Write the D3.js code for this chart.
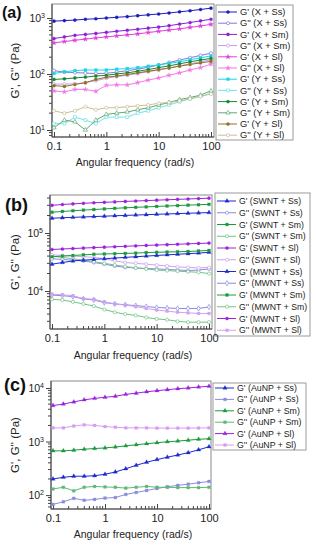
<!DOCTYPE html>
<html><head><meta charset="utf-8">
<script src="https://cdn.jsdelivr.net/npm/d3@7"></script>
<style>
body{margin:0;background:#fff;}
svg{display:block;font-family:"Liberation Sans",Arial,sans-serif;}
</style></head>
<body><svg id="c" width="316" height="550"></svg>
<script>
// ---------- data ----------
const freq = [0.1,0.158,0.251,0.398,0.631,1,1.58,2.51,3.98,6.31,10,15.8,25.1,39.8,63.1,100];
const xTicks = [0.1,1,10,100];
const xTickLabels = ["0.1","1","10","100"];

// panel (a)
const aLabels = ["G' (X + Ss)","G'' (X + Ss)","G' (X + Sm)","G'' (X + Sm)","G' (X + Sl)","G'' (X + Sl)","G' (Y + Ss)","G'' (Y + Ss)","G' (Y + Sm)","G'' (Y + Sm)","G' (Y + Sl)","G'' (Y + Sl)"];
const aGpXSs = [880,900,920,950,970,1000,1030,1060,1100,1140,1180,1230,1290,1350,1420,1500];
const aGppXSs = [115,108,106,104,102,103,108,115,122,132,145,160,178,195,215,235];
const aGpXSm = [430,460,490,510,530,555,580,605,630,660,690,730,780,830,890,950];
const aGppXSm = [66,66,67,70,76,84,90,95,102,110,118,128,140,152,165,180];
const aGpXSl = [360,380,400,420,440,460,480,500,520,550,580,610,640,680,720,770];
const aGppXSl = [50,48,53,53,49,63,64,64,70,78,85,95,105,118,130,150];
const aGpYSs = [102,110,115,118,118,118,122,125,130,138,145,155,165,180,195,210];
const aGppYSs = [13,13,17,15,13,17,17,17,20,22,25,28,32,36,40,45];
const aGpYSm = [80,82,85,88,92,95,100,105,112,120,130,140,152,165,178,190];
const aGppYSm = [11,15,14,10,15,19,20,21,23,25,28,31,35,38,42,50];
const aGpYSl = [62,60,65,70,80,88,92,98,105,112,120,128,138,148,158,168];
const aGppYSl = [22,20,22,26,23,25,25,26,27,28,30,31,33,36,40,44];
const aColors = ["#1c1cc0","#7c7cd8","#8a20d8","#c79ae8","#e040d8","#f27ae6","#18d6e6","#70e4ec","#18863a","#62a874","#8a7420","#cbbf98"];
const aSymbols = ["circle","ocircle","circle","ocircle","star","star","square","osquare","circle","otriangle","circle","ocircle"];
const aTicksY = [10,100,1000];

// panel (b)
const bLabels = ["G' (SWNT + Ss)","G'' (SWNT + Ss)","G' (SWNT + Sm)","G'' (SWNT + Sm)","G' (SWNT + Sl)","G'' (SWNT + Sl)","G' (MWNT + Ss)","G'' (MWNT + Ss)","G' (MWNT + Sm)","G'' (MWNT + Sm)","G' (MWNT + Sl)","G'' (MWNT + Sl)"];
const bGpSWSs = [180e3,183e3,186e3,189e3,192e3,195e3,198e3,201e3,204e3,207e3,210e3,213e3,216e3,219e3,222e3,225e3];
const bGppSWSs = [36e3,35e3,34e3,33e3,31e3,29e3,27e3,25.5e3,25e3,24.5e3,24e3,23.5e3,23e3,22.5e3,23e3,24e3];
const bGpSWSm = [228e3,235e3,242e3,248e3,254e3,260e3,266e3,272e3,277e3,282e3,287e3,292e3,297e3,302e3,307e3,312e3];
const bGppSWSm = [40e3,38e3,36e3,34e3,32e3,30e3,28e3,26.5e3,25e3,24e3,23e3,22.5e3,22e3,21.5e3,21e3,20e3];
const bGpSWSl = [300e3,310e3,318e3,325e3,332e3,338e3,344e3,350e3,356e3,362e3,368e3,374e3,380e3,386e3,392e3,398e3];
const bGppSWSl = [42e3,41e3,40e3,39e3,38e3,36e3,33e3,31e3,30e3,29e3,28e3,27e3,26e3,25.5e3,25e3,25.5e3];
const bGpMWSs = [29e3,31e3,33e3,34e3,35e3,36e3,37e3,38e3,39e3,40e3,41e3,42e3,43e3,44e3,45e3,46.5e3];
const bGppMWSs = [8.5e3,8.3e3,8e3,7.3e3,7e3,6.3e3,6e3,5.8e3,5.6e3,5.4e3,5.2e3,5.1e3,5e3,5e3,5e3,5.3e3];
const bGpMWSm = [39e3,40e3,41e3,42e3,43e3,43.5e3,44e3,44.5e3,45e3,46e3,46.5e3,47e3,47.5e3,48e3,49e3,50e3];
const bGppMWSm = [7.2e3,7e3,6.5e3,6e3,5.5e3,4.8e3,4.3e3,4e3,3.8e3,3.5e3,3.3e3,3.2e3,3e3,2.9e3,2.9e3,2.9e3];
const bGpMWSl = [52e3,53e3,54e3,55e3,56e3,57e3,58e3,59e3,60e3,61e3,62e3,63e3,64e3,65e3,66e3,67e3];
const bGppMWSl = [8.8e3,8.6e3,8.3e3,7.4e3,7.2e3,6.5e3,6e3,5.7e3,5.4e3,5e3,4.7e3,4.5e3,4.3e3,4.2e3,4.1e3,4.1e3];
const bColors = ["#1c2ad0","#8a8ae0","#1a9a3c","#72c486","#9a22dd","#cfa2ee","#1c2ad0","#8a8ae0","#1a9a3c","#72c486","#9a22dd","#cfa2ee"];
const bSymbols = ["triangle","ocircle","square","ocircle","circle","ocircle","triangle","odiamond","square","ocircle","circle","square"];
const bTicksY = [1e4,1e5];

// panel (c)
const cLabels = ["G' (AuNP + Ss)","G'' (AuNP + Ss)","G' (AuNP + Sm)","G'' (AuNP + Sm)","G' (AuNP + Sl)","G'' (AuNP + Sl)"];
const cGpSs = [200,215,225,225,230,245,270,310,360,410,460,510,560,620,700,800];
const cGppSs = [67,75,87,80,83,88,90,103,112,122,133,143,152,160,170,180];
const cGpSm = [670,670,690,720,740,760,790,830,870,910,950,990,1020,1060,1100,1130];
const cGppSm = [130,140,120,140,145,142,140,135,140,145,140,140,138,138,138,140];
const cGpSl = [4700,5000,5500,6000,6400,6700,7000,7600,8000,8500,8900,9300,9700,10000,10400,10800];
const cGppSl = [1800,1800,1950,2050,2000,1900,1850,1800,1800,1800,1780,1780,1780,1780,1790,1800];
const cColors = ["#1c2ad0","#8a8ae0","#1a9a3c","#5fb878","#9a22dd","#d79cee"];
const cSymbols = ["triangle","square","triangle","square","triangle","square"];
const cTicksY = [100,1000,10000];

// ---------- drawing ----------
const svg = d3.select("#c");

function marker(g, type, x, y, color, s){
  const open = type[0]==="o";
  const t = open ? type.slice(1) : type;
  const map = {circle:d3.symbolCircle, square:d3.symbolSquare, triangle:d3.symbolTriangle, diamond:d3.symbolDiamond, star:d3.symbolStar};
  g.append("path").attr("d", d3.symbol().type(map[t]).size(s)())
    .attr("transform", `translate(${x},${y})`)
    .attr("fill", open ? "#fff" : color).attr("stroke", color).attr("stroke-width", open?0.7:0.3);
}

function panel(cfg){
  const g = svg.append("g");
  const lg = g.append("g");
  const x = d3.scaleLog().domain([0.1,100]).range(cfg.xr);
  const y = d3.scaleLog().domain(cfg.yd).range([cfg.fb, cfg.ft]);
  g.append("rect").attr("x",cfg.fl).attr("y",cfg.ft).attr("width",cfg.fr-cfg.fl).attr("height",cfg.fb-cfg.ft)
    .attr("fill","none").attr("stroke","#8a8a8a").attr("stroke-width",1);
  const xa = d3.axisBottom(x).tickValues(xTicks).tickFormat((d,i)=>xTickLabels[i]).tickSize(5).tickPadding(3);
  const xg = g.append("g").attr("transform",`translate(0,${cfg.fb})`).call(xa);
  xg.select(".domain").attr("d",`M${cfg.fl},0H${cfg.fr}`).attr("stroke","#444");
  xg.selectAll(".tick line").attr("y2",-5).attr("stroke","#444");
  xg.selectAll("text").attr("font-size",11).attr("fill","#222").attr("dy","0.71em").attr("y",5);
  const xmin = [];
  for(let e=-1;e<2;e++) for(let m=2;m<10;m++) xmin.push(m*Math.pow(10,e));
  xg.selectAll(".mx").data(xmin).join("line").attr("x1",d=>x(d)).attr("x2",d=>x(d)).attr("y1",0).attr("y2",-3).attr("stroke","#444");
  const ya = d3.axisLeft(y).tickValues(cfg.yt).tickFormat("").tickSize(5);
  const yg = g.append("g").attr("transform",`translate(${cfg.fl},0)`).call(ya);
  yg.select(".domain").attr("d",`M0,${cfg.ft}V${cfg.fb}`).attr("stroke","#444");
  yg.selectAll(".tick line").attr("stroke","#444");
  yg.selectAll(".tick").append("text").attr("x",-7).attr("dy","0.35em").attr("text-anchor","end")
    .attr("fill","#222").attr("font-size",10.5)
    .each(function(d){
      const t = d3.select(this);
      t.append("tspan").text("10");
      t.append("tspan").attr("font-size",7).attr("dy","-0.55em").text(String(Math.round(Math.log10(d))));
    });
  const lo = Math.floor(Math.log10(cfg.yd[0])), hi = Math.ceil(Math.log10(cfg.yd[1]));
  const ymin = [];
  for(let e=lo;e<hi;e++) for(let m=2;m<10;m++){const v=m*Math.pow(10,e); if(v>=cfg.yd[0]&&v<=cfg.yd[1]) ymin.push(v);}
  yg.selectAll(".my").data(ymin).join("line").attr("x1",0).attr("x2",-3).attr("y1",d=>y(d)).attr("y2",d=>y(d)).attr("stroke","#444");
  g.append("text").attr("x",(cfg.fl+cfg.fr)/2+2).attr("y",cfg.fb+cfg.tdy).attr("text-anchor","middle")
    .attr("font-size",10.5).attr("fill","#222").text("Angular frequency (rad/s)");
  g.append("text").attr("transform",`translate(${cfg.ytx},${(cfg.ft+cfg.fb)/2}) rotate(-90)`).attr("text-anchor","middle")
    .attr("font-size",11.5).attr("fill","#222").text("G', G'' (Pa)");
  g.append("text").attr("x",cfg.lx).attr("y",cfg.ly).attr("font-size",cfg.lfs).attr("font-weight","bold").attr("fill","#111").text(cfg.label);
  const line = d3.line().x((d,i)=>x(freq[i])).y(d=>y(d));
  cfg.series.forEach((s,k)=>{
    g.append("path").attr("d",line(s)).attr("fill","none").attr("stroke",cfg.colors[k]).attr("stroke-width",1);
  });
  cfg.series.forEach((s,k)=>{
    s.forEach((v,i)=>marker(g,cfg.symbols[k],x(freq[i]),y(v),cfg.colors[k],cfg.ms));
  });
  const L = cfg.leg;
  lg.append("rect").attr("x",L.x).attr("y",L.y).attr("width",L.w).attr("height",L.h).attr("fill","#fff").attr("stroke","#9a9a9a");
  cfg.labels.forEach((lab,k)=>{
    const yy = L.r0 + k*L.dr;
    lg.append("line").attr("x1",L.x+2).attr("x2",L.x+21).attr("y1",yy).attr("y2",yy).attr("stroke",cfg.colors[k]).attr("stroke-width",1);
    marker(lg,cfg.symbols[k],L.x+12,yy,cfg.colors[k],cfg.ms);
    lg.append("text").attr("x",L.x+24).attr("y",yy).attr("dy","0.35em").attr("font-size",L.fs).attr("fill","#222").text(lab);
  });
}

panel({label:"(a)",lx:2,ly:18,lfs:16,xr:[54,211],fl:52,fr:214,ft:4,fb:137,yd:[7.5,1780],yt:aTicksY,ytx:19,ms:8,tdy:29,
  series:[aGpXSs,aGppXSs,aGpXSm,aGppXSm,aGpXSl,aGppXSl,aGpYSs,aGppYSs,aGpYSm,aGppYSm,aGpYSl,aGppYSl],
  colors:aColors,symbols:aSymbols,labels:aLabels,
  leg:{x:216,y:5,w:77,h:135,r0:12,dr:11.2,fs:9.3}});
panel({label:"(b)",lx:5,ly:211,lfs:18,xr:[52,209],fl:50,fr:212,ft:195,fb:329,yd:[2213,452000],yt:bTicksY,ytx:19,ms:8,tdy:30,
  series:[bGpSWSs,bGppSWSs,bGpSWSm,bGppSWSm,bGpSWSl,bGppSWSl,bGpMWSs,bGppMWSs,bGpMWSm,bGppMWSm,bGpMWSl,bGppMWSl],
  colors:bColors,symbols:bSymbols,labels:bLabels,
  leg:{x:215,y:193,w:95,h:143,r0:201,dr:11.75,fs:8.7}});
panel({label:"(c)",lx:4,ly:391,lfs:18,xr:[53,209],fl:51,fr:211,ft:381,fb:509,yd:[55,13500],yt:cTicksY,ytx:19,ms:8,tdy:29,
  series:[cGpSs,cGppSs,cGpSm,cGppSm,cGpSl,cGppSl],
  colors:cColors,symbols:cSymbols,labels:cLabels,
  leg:{x:213,y:383,w:93,h:67,r0:388,dr:11.4,fs:8.8}});
</script></body></html>
